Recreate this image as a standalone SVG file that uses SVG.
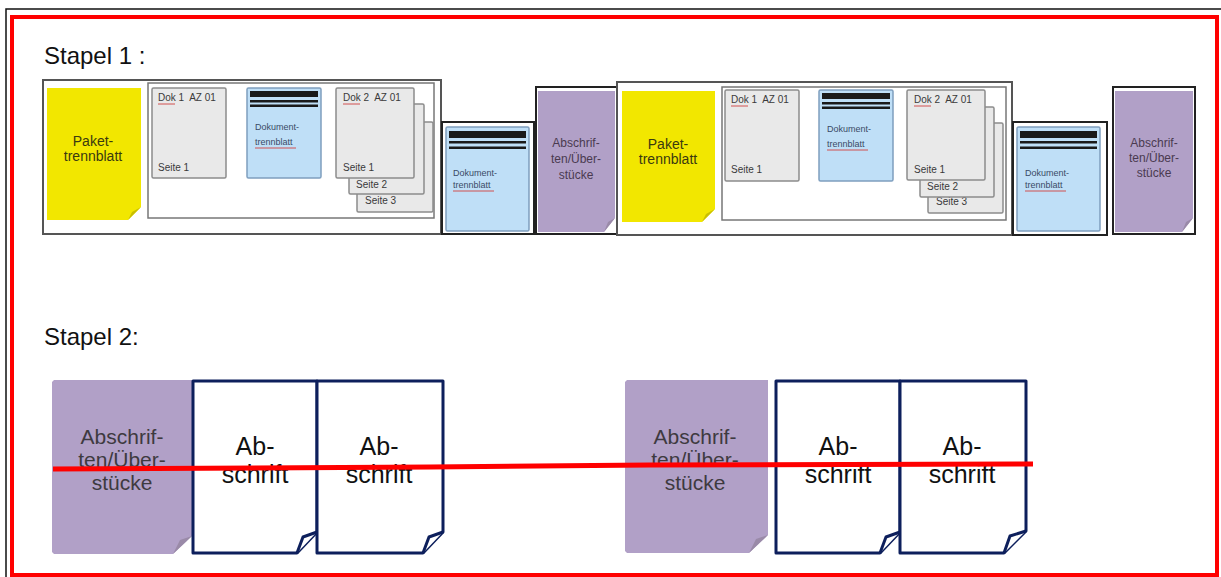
<svg xmlns="http://www.w3.org/2000/svg" width="1221" height="577" viewBox="0 0 1221 577">
<style>
.title{font-family:"Liberation Sans",Arial,sans-serif;font-size:24px;fill:#111}
.frame{fill:#fff;stroke:#555;stroke-width:2}
.inner{fill:#fff;stroke:#777;stroke-width:1.5}
.page{fill:#e9e9e9;stroke:#8c8c8c;stroke-width:1.5}
.blue{fill:#bfdff7;stroke:#7f9fbf;stroke-width:1.5}
.bar{fill:#1a1a1a}
.blk{fill:#fff;stroke:#222;stroke-width:2}
.yellow{fill:#f2e700}
.purple{fill:#b1a0c7}
.fold{fill:#9a8aa8}
.sm{font-family:"Liberation Sans",Arial,sans-serif;font-size:10px;fill:#3a3a3a}
.dk{font-family:"Liberation Sans",Arial,sans-serif;font-size:9px;fill:#3a4a66}
.yt{font-family:"Liberation Sans",Arial,sans-serif;font-size:14px;fill:#3a3a10;text-anchor:middle}
.pt{font-family:"Liberation Sans",Arial,sans-serif;font-size:12px;fill:#4a3a50;text-anchor:middle}
.pt2{font-family:"Liberation Sans",Arial,sans-serif;font-size:21px;fill:#3e3a40;text-anchor:middle}
.ab{fill:#fff;stroke:#0d1f5c;stroke-width:3;stroke-linejoin:round}
.abt{font-family:"Liberation Sans",Arial,sans-serif;font-size:25px;fill:#111;text-anchor:middle}
.sq{stroke:#d05050;stroke-width:1;fill:none}
</style>

<rect x="6" y="9" width="1230" height="580" fill="#fff" stroke="#111" stroke-width="1.5"/>
<rect x="12" y="17" width="1205" height="558" fill="#fff" stroke="#ff0000" stroke-width="4"/>

<text class="title" x="44" y="64">Stapel 1 :</text>
<text class="title" x="44" y="345">Stapel 2:</text>

<!-- Stapel 1, group 1 -->
<g id="paket1">
  <rect class="frame" x="43" y="80" width="398" height="154"/>
</g>
<g id="yellow1">
  <polygon class="yellow" points="47,88 141,88 141,207 128,220 47,220"/>
  <polygon points="141,207 132,212 128,220" fill="#c9bf00"/>
  <text class="yt" x="93" y="146">Paket-</text>
  <text class="yt" x="93" y="161">trennblatt</text>
</g>
<g id="inner1">
  <rect class="inner" x="148" y="83" width="286" height="135"/>
</g>
<g id="dok1a">
  <rect class="page" x="152" y="88" width="74" height="90" rx="1.5"/>
  <text class="sm" x="158" y="101">Dok 1&#160; AZ 01</text>
  <path class="sq" d="M158,104 l17,0"/>
  <text class="sm" x="158" y="171">Seite 1</text>
</g>
<g id="dtb1a">
  <rect class="blue" x="247" y="88" width="74" height="90" rx="1.5"/>
  <rect class="bar" x="250" y="91" width="68" height="6"/>
  <rect class="bar" x="250" y="100" width="68" height="2.5"/>
  <rect class="bar" x="250" y="104.5" width="68" height="2.5"/>
  <text class="dk" x="255" y="130">Dokument-</text>
  <text class="dk" x="255" y="145">trennblatt</text>
  <path class="sq" d="M255,148 l41,0"/>
</g>
<g id="dok2a">
  <rect class="page" x="357" y="122" width="76" height="90" rx="1.5"/>
  <text class="sm" x="365" y="204">Seite 3</text>
  <rect class="page" x="349" y="104" width="75" height="90" rx="1.5"/>
  <text class="sm" x="356" y="188">Seite 2</text>
  <rect class="page" x="336" y="88" width="78" height="90" rx="1.5"/>
  <text class="sm" x="343" y="101">Dok 2&#160; AZ 01</text>
  <path class="sq" d="M343,104 l17,0"/>
  <text class="sm" x="343" y="171">Seite 1</text>
</g>
<g id="dtb1b">
  <rect class="blk" x="442" y="122" width="92" height="112"/>
  <rect class="blue" x="446" y="127" width="83" height="104" rx="1.5"/>
  <rect class="bar" x="449" y="131" width="77" height="7"/>
  <rect class="bar" x="449" y="141" width="77" height="2.5"/>
  <rect class="bar" x="449" y="146.5" width="77" height="2.5"/>
  <text class="dk" x="453" y="176">Dokument-</text>
  <text class="dk" x="453" y="188">trennblatt</text>
  <path class="sq" d="M453,191 l41,0"/>
</g>
<g id="purple1a">
  <rect x="536" y="87" width="81" height="147" fill="#fff" stroke="#222" stroke-width="2"/>
  <polygon class="purple" points="538,91 615,91 615,218 604,232 538,232"/>
  <polygon class="fold" points="615,218 608,222 604,232"/>
  <text class="pt" x="576" y="147">Abschrif-</text>
  <text class="pt" x="576" y="163">ten/Über-</text>
  <text class="pt" x="576" y="179">stücke</text>
</g>

<!-- Stapel 1, group 2 -->
<g id="paket2">
  <rect class="frame" x="617" y="82" width="395" height="153"/>
</g>
<g id="yellow2">
  <polygon class="yellow" points="622,91 715,91 715,209 702,222 622,222"/>
  <polygon points="715,209 706,214 702,222" fill="#c9bf00"/>
  <text class="yt" x="668" y="149">Paket-</text>
  <text class="yt" x="668" y="164">trennblatt</text>
</g>
<g id="inner2">
  <rect class="inner" x="722" y="87" width="284" height="133"/>
</g>
<g id="dok1b">
  <rect class="page" x="725" y="90" width="74" height="91" rx="1.5"/>
  <text class="sm" x="731" y="103">Dok 1&#160; AZ 01</text>
  <path class="sq" d="M731,106 l17,0"/>
  <text class="sm" x="731" y="173">Seite 1</text>
</g>
<g id="dtb2a">
  <rect class="blue" x="819" y="90" width="74" height="91" rx="1.5"/>
  <rect class="bar" x="822" y="93" width="68" height="6"/>
  <rect class="bar" x="822" y="102" width="68" height="2.5"/>
  <rect class="bar" x="822" y="106.5" width="68" height="2.5"/>
  <text class="dk" x="827" y="132">Dokument-</text>
  <text class="dk" x="827" y="147">trennblatt</text>
  <path class="sq" d="M827,150 l41,0"/>
</g>
<g id="dok2b">
  <rect class="page" x="928" y="123" width="75" height="90" rx="1.5"/>
  <text class="sm" x="936" y="205">Seite 3</text>
  <rect class="page" x="920" y="107" width="74" height="90" rx="1.5"/>
  <text class="sm" x="927" y="190">Seite 2</text>
  <rect class="page" x="907" y="90" width="78" height="90" rx="1.5"/>
  <text class="sm" x="914" y="103">Dok 2&#160; AZ 01</text>
  <path class="sq" d="M914,106 l17,0"/>
  <text class="sm" x="914" y="173">Seite 1</text>
</g>
<g id="dtb2b">
  <rect class="blk" x="1013" y="122" width="94" height="113"/>
  <rect class="blue" x="1017" y="127" width="83" height="104" rx="1.5"/>
  <rect class="bar" x="1020" y="131" width="77" height="7"/>
  <rect class="bar" x="1020" y="141" width="77" height="2.5"/>
  <rect class="bar" x="1020" y="146.5" width="77" height="2.5"/>
  <text class="dk" x="1025" y="176">Dokument-</text>
  <text class="dk" x="1025" y="188">trennblatt</text>
  <path class="sq" d="M1025,191 l41,0"/>
</g>
<g id="purple2a">
  <rect x="1113" y="87" width="82" height="147" fill="#fff" stroke="#222" stroke-width="2"/>
  <polygon class="purple" points="1115,91 1193,91 1193,218 1182,232 1115,232"/>
  <polygon class="fold" points="1193,218 1186,222 1182,232"/>
  <text class="pt" x="1154" y="147">Abschrif-</text>
  <text class="pt" x="1154" y="162">ten/Über-</text>
  <text class="pt" x="1154" y="177">stücke</text>
</g>

<!-- Stapel 2 -->
<g id="purple2b">
  <polygon class="purple" points="52,382 54,380 192,380 192,536 173,554 54,554 52,552"/>
  <polygon class="fold" points="192,536 180,540 173,554"/>
  <text class="pt2" x="122" y="444">Abschrif-</text>
  <text class="pt2" x="122" y="467">ten/Über-</text>
  <text class="pt2" x="122" y="490">stücke</text>
</g>
<g id="abschrift1">
  <path class="ab" d="M193,381 L317,381 L317,532 L297,553 L193,553 Z"/>
  <path class="ab" d="M317,532 L303,537 L297,553"/>
  <text class="abt" x="255" y="455">Ab-</text>
  <text class="abt" x="255" y="483">schrift</text>
</g>
<g id="abschrift2">
  <path class="ab" d="M317,381 L443,381 L443,532 L423,553 L317,553 Z"/>
  <path class="ab" d="M443,532 L429,537 L423,553"/>
  <text class="abt" x="379" y="455">Ab-</text>
  <text class="abt" x="379" y="483">schrift</text>
</g>
<g id="purple2c">
  <polygon class="purple" points="625,382 627,380 768,380 768,535 749,553 627,553 625,551"/>
  <polygon class="fold" points="768,535 756,539 749,553"/>
  <text class="pt2" x="695" y="444">Abschrif-</text>
  <text class="pt2" x="695" y="467">ten/Über-</text>
  <text class="pt2" x="695" y="490">stücke</text>
</g>
<g id="abschrift3">
  <path class="ab" d="M776,381 L900,381 L900,532 L880,553 L776,553 Z"/>
  <path class="ab" d="M900,532 L886,537 L880,553"/>
  <text class="abt" x="838" y="455">Ab-</text>
  <text class="abt" x="838" y="483">schrift</text>
</g>
<g id="abschrift4">
  <path class="ab" d="M900,381 L1026,381 L1026,531 L1004,553 L900,553 Z"/>
  <path class="ab" d="M1026,531 L1010,536 L1004,553"/>
  <text class="abt" x="962" y="455">Ab-</text>
  <text class="abt" x="962" y="483">schrift</text>
</g>

<g id="connectors">
  <polyline points="53,469 430,467 650,465 1033,464" fill="none" stroke="#ff0000" stroke-width="5"/>
</g>
</svg>
